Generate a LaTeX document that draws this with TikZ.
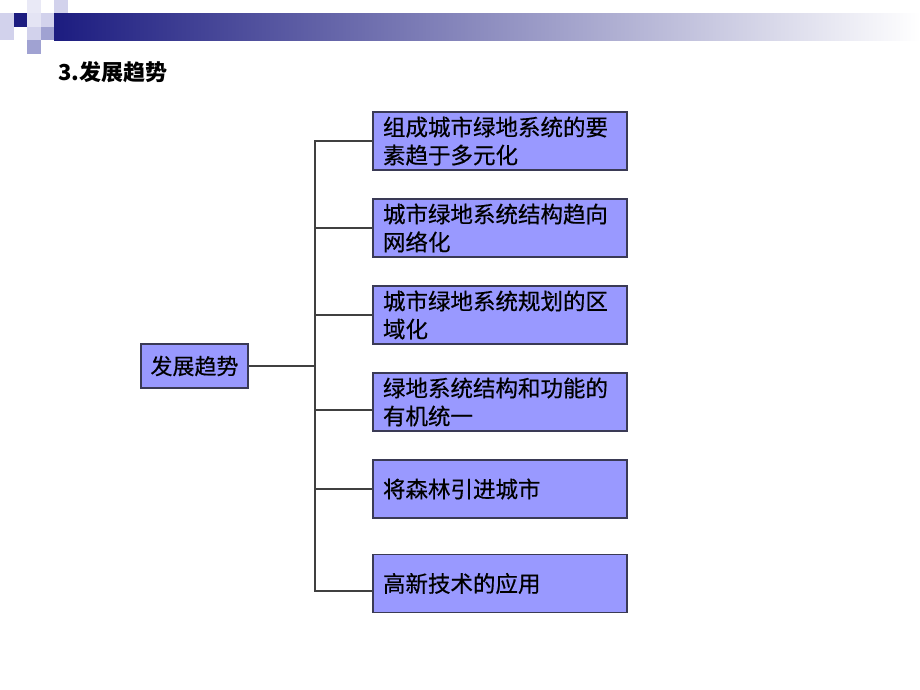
\documentclass[tikz,border=0pt]{standalone}
\usepackage{fontspec}
\setmainfont{Noto Sans CJK SC}
\newfontfamily\heavycjk[FakeBold=0.5]{Noto Sans CJK SC}
\usepackage{tikz}
\usetikzlibrary{calc}
\definecolor{boxfill}{HTML}{9999FF}
\definecolor{boxline}{HTML}{3A3A55}
\definecolor{linkgray}{HTML}{404040}
\definecolor{navy}{HTML}{1C1C80}
\definecolor{lav}{HTML}{D2D2EC}
\definecolor{midlav}{HTML}{A0A2D2}
\tikzstyle{trendbox}=[rectangle,fill=boxfill,draw=boxline,line width=1.3pt,minimum width=254pt,minimum height=58pt,text width=234pt,inner xsep=10pt,inner ysep=0pt,align=left,font=\heavycjk\fontsize{22.5}{28}\selectfont]
\tikzstyle{rootbox}=[rectangle,fill=boxfill,draw=boxline,line width=1.3pt,minimum width=107pt,minimum height=44pt,inner sep=0pt,font=\heavycjk\fontsize{22}{28}\selectfont]
\tikzstyle{link} = [draw,linkgray,line width=1.2pt]

\begin{document}
\begin{tikzpicture}[x=1pt,y=-1pt]
    \useasboundingbox (0,0) rectangle (920,690);

    % header bar and squares
    \shade[left color=navy,right color=white] (54,13.5) rectangle (920,41);
    \foreach \pos/\col in {{(0,13.5)/lav},{(0,27)/lav},{(13.5,13.5)/navy},{(27,0)/lav!50},{(27,13.5)/lav!60},{(27,27)/lav},{(27,40.5)/midlav},{(40.5,13.5)/lav},{(40.5,27)/midlav},{(54,0)/lav}}
        \fill[\col] \pos rectangle ++(13.5,13.5);

    \node[anchor=west,font=\bfseries\fontsize{22}{26}\selectfont] (title) at (55,72) {3.发展趋势};

    \node[rootbox] (root) at (194.5,366) {发展趋势};

    \foreach \pos/\name/\txt in {{(500,141)/b1/{组成城市绿地系统的要\\素趋于多元化}},
        {(500,228)/b2/{城市绿地系统结构趋向\\网络化}},
        {(500,315)/b3/{城市绿地系统规划的区\\域化}},
        {(500,402)/b4/{绿地系统结构和功能的\\有机统一}},
        {(500,489)/b5/{将森林引进城市}},
        {(500,583.5)/b6/{高新技术的应用}}}
        \node[trendbox] (\name) at \pos {\txt};

    % connect root to every box through the spine
    \coordinate (spine) at (315,366);
    \foreach \dest/\off in {b1/0,b2/0,b3/0,b4/-8,b5/0,b6/-7.5}
        \path[link] (root.east) -- (spine) |- ([yshift=\off pt]\dest.west);

\end{tikzpicture}
\end{document}
